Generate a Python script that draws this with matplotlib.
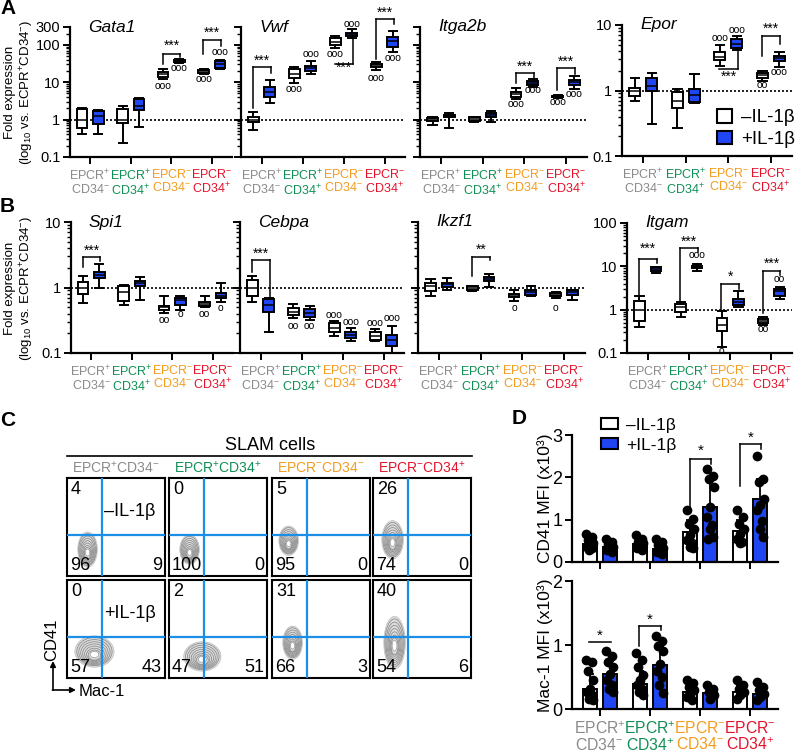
#!/usr/bin/env python3
"""Redraw the EPCR/CD34 SLAM cell expression, flow and MFI panels."""

import matplotlib
matplotlib.use("Agg")
import matplotlib.pyplot as plt
from matplotlib import font_manager
from matplotlib.patches import Ellipse, Patch
from matplotlib.ticker import NullFormatter

plt.rcParams["font.family"] = ["Liberation Sans", "DejaVu Sans"]
plt.rcParams["mathtext.fontset"] = "custom"
plt.rcParams["mathtext.rm"] = "Liberation Sans"
plt.rcParams["mathtext.it"] = "Liberation Sans:italic"
plt.rcParams["mathtext.bf"] = "Liberation Sans:bold"

installed = {f.name for f in font_manager.fontManager.ttflist}
NARROW = "Liberation Sans Narrow" in installed
SMALL_FAMILY = ["Liberation Sans Narrow", "Liberation Sans"] if NARROW else ["Liberation Sans"]
SMALL_SIZE = 10 if NARROW else 9.0

W, H = 800, 752
BLUE = "#1f46f0"
QUAD = "#1b8fe6"

group_labels = ["EPCR$^{+}$\nCD34$^{-}$", "EPCR$^{+}$\nCD34$^{+}$", "EPCR$^{-}$\nCD34$^{-}$", "EPCR$^{-}$\nCD34$^{+}$"]
column_titles = ["EPCR$^{+}$CD34$^{-}$", "EPCR$^{+}$CD34$^{+}$", "EPCR$^{-}$CD34$^{-}$", "EPCR$^{-}$CD34$^{+}$"]
group_colors = ["#8a8a8a", "#0f8f55", "#f39c1f", "#e4132b"]
condition_labels = ["–IL-1β", "+IL-1β"]

# box stats per group: [whisker low, q1, median, q3, whisker high]
gata1_minus = [[0.42, 0.61, 0.96, 1.9, 2.1], [0.23, 0.8, 1.0, 1.9, 2.3], [12, 14.2, 16.3, 19, 22], [16.3, 18.1, 20, 21.3, 22.3]]
gata1_plus = [[0.4, 0.78, 1.25, 1.7, 1.78], [0.65, 1.8, 2.3, 3.5, 3.9], [33.5, 35, 37, 40, 41], [22.3, 24.7, 30, 37, 40]]
vwf_minus = [[0.52, 0.88, 1.0, 1.2, 1.6], [9.4, 13.3, 17.1, 22.3, 25.7], [80, 98, 120, 150, 175], [21, 24.8, 27.4, 30.4, 35.7]]
vwf_plus = [[2.8, 4.1, 5.6, 7.6, 11.5], [17.1, 20.1, 23.7, 27.3, 37], [157, 177, 193, 213, 262], [66, 90, 123, 167, 228]]
itga2b_minus = [[0.72, 0.92, 1.0, 1.08, 1.2], [0.88, 0.94, 1.06, 1.15, 1.2], [3.5, 3.96, 4.96, 5.6, 6.9], [3.9, 4.05, 4.2, 4.4, 4.6]]
itga2b_plus = [[0.59, 1.2, 1.28, 1.33, 1.48], [0.88, 1.15, 1.31, 1.48, 1.7], [7.3, 8.5, 9.8, 10.8, 12.3], [6.5, 8.5, 10, 11.5, 14.8]]
epor_minus = [[0.70, 0.81, 0.98, 1.1, 1.55], [0.27, 0.54, 0.70, 0.94, 1.06], [2.4, 2.88, 3.24, 3.86, 5.0], [1.42, 1.55, 1.7, 1.85, 1.97]]
epor_plus = [[0.31, 0.98, 1.19, 1.55, 1.84], [0.64, 0.66, 0.84, 1.06, 1.76], [4.2, 4.4, 5.2, 6.2, 6.9], [2.27, 2.8, 3.17, 3.4, 3.86]]
spi1_minus = [[0.58, 0.79, 1.0, 1.23, 1.5], [0.55, 0.62, 0.85, 1.05, 1.1], [0.41, 0.46, 0.50, 0.53, 0.73], [0.5, 0.53, 0.56, 0.61, 0.73]]
spi1_plus = [[0.98, 1.42, 1.56, 1.75, 2.26], [0.65, 1.06, 1.16, 1.26, 1.47], [0.46, 0.55, 0.65, 0.70, 0.73], [0.61, 0.69, 0.75, 0.82, 1.16]]
cebpa_minus = [[0.61, 0.73, 0.98, 1.31, 1.5], [0.34, 0.38, 0.43, 0.49, 0.56], [0.18, 0.21, 0.24, 0.29, 0.31], [0.15, 0.16, 0.18, 0.21, 0.23]]
cebpa_plus = [[0.21, 0.43, 0.55, 0.67, 0.70], [0.32, 0.36, 0.41, 0.47, 0.53], [0.15, 0.17, 0.19, 0.21, 0.24], [0.10, 0.13, 0.16, 0.19, 0.26]]
ikzf1_minus = [[0.73, 0.87, 1.06, 1.16, 1.35], [0.87, 0.92, 0.98, 1.04, 1.06], [0.63, 0.71, 0.76, 0.80, 0.92], [0.69, 0.73, 0.77, 0.82, 0.85]]
ikzf1_plus = [[0.9, 1.01, 1.14, 1.19, 1.39], [1.01, 1.26, 1.34, 1.43, 1.61], [0.73, 0.77, 0.85, 0.92, 1.04], [0.65, 0.77, 0.84, 0.9, 0.92]]
itgam_minus = [[0.39, 0.56, 1.0, 1.61, 2.02], [0.67, 0.88, 1.13, 1.35, 1.5], [0.14, 0.32, 0.45, 0.64, 0.92], [0.45, 0.49, 0.56, 0.62, 0.67]]
itgam_plus = [[6.9, 8.0, 8.7, 9.4, 9.9], [7.6, 9.0, 9.9, 10.4, 11.2], [1.15, 1.26, 1.47, 1.79, 2.73], [1.79, 2.1, 2.64, 3.03, 3.26]]

# "o" marks: (group, -1 minus / +1 plus, y, count)
gata1_circles = [(2, -1, 8, 3), (2, 1, 23.6, 3), (3, -1, 12, 3), (3, 1, 66, 3)]
vwf_circles = [(1, -1, 6.5, 3), (1, 1, 58, 3), (2, -1, 58, 3), (2, 1, 370, 3), (3, -1, 12.8, 3), (3, 1, 45.6, 3)]
itga2b_circles = [(2, -1, 2.6, 3), (2, 1, 6.2, 3), (3, -1, 3.0, 3), (3, 1, 4.76, 3)]
epor_circles = [(2, -1, 6.3, 3), (2, 1, 8.3, 3), (3, -1, 1.22, 2), (3, 1, 1.9, 3)]
spi1_circles = [(2, -1, 0.32, 2), (2, 1, 0.40, 1), (3, -1, 0.40, 2), (3, 1, 0.48, 1)]
cebpa_circles = [(1, -1, 0.26, 2), (1, 1, 0.26, 2), (2, -1, 0.38, 3), (2, 1, 0.30, 3), (3, -1, 0.29, 3), (3, 1, 0.34, 3)]
ikzf1_circles = [(2, -1, 0.49, 1), (3, -1, 0.49, 1)]
itgam_circles = [(1, 1, 18.3, 3), (2, -1, 0.11, 1), (3, -1, 0.35, 2), (3, 1, 5.1, 2)]

# brackets: (group, bar y, left leg end, right leg end, label y, label)
gata1_brackets = [(2, 58, 30, 46, 94, "***"), (3, 136, 56, 94, 213, "***")]
vwf_brackets = [(0, 24.8, 2.0, 18.1, 37, "***"), (2, 31.6, None, 142, 24.8, "***"), (3, 490, 43, 360, 740, "***")]
itga2b_brackets = [(2, 18.1, 9.4, 12.8, 26, "***"), (3, 23.6, 6.2, 16.3, 36, "***")]
epor_brackets = [(2, 2.15, None, 4.1, 1.6, "***"), (3, 6.9, 3.4, 5.2, 8.8, "***")]
spi1_brackets = [(0, 2.96, 2.08, 2.5, 3.7, "***")]
cebpa_brackets = [(0, 2.63, 1.75, 0.69, 3.3, "***")]
ikzf1_brackets = [(1, 2.9, 1.5, 2.6, 3.8, "**")]
itgam_brackets = [(0, 14.8, 2.2, 11.8, 26, "***"), (1, 26, 1.55, 21.8, 37, "***"),
                  (2, 3.88, 0.92, 3.0, 5.8, "*"), (3, 7.6, 0.84, 6.4, 11.2, "***")]

# flow quadrant percentages, row-major (top row -IL-1b, bottom row +IL-1b)
quad_upper_left = [4, 0, 5, 26, 0, 2, 31, 40]
quad_lower_left = [96, 100, 95, 74, 57, 47, 66, 54]
quad_lower_right = [9, 0, 0, 0, 43, 51, 3, 6]
blob_x = [0.21, 0.21, 0.17, 0.20, 0.28, 0.34, 0.21, 0.22]
blob_y = [0.27, 0.27, 0.36, 0.37, 0.27, 0.22, 0.36, 0.36]
blob_w = [0.20, 0.20, 0.20, 0.22, 0.40, 0.38, 0.20, 0.22]
blob_h = [0.36, 0.30, 0.30, 0.39, 0.32, 0.30, 0.34, 0.54]

# MFI (x10^3)
cd41_minus_mean = [0.43, 0.42, 0.70, 0.74]
cd41_plus_mean = [0.35, 0.31, 1.29, 1.48]
cd41_minus_sd = [0.15, 0.13, 0.30, 0.26]
cd41_plus_sd = [0.12, 0.13, 0.70, 0.48]
cd41_minus_pts = [[0.67, 0.59, 0.52, 0.44, 0.40, 0.36, 0.32, 0.28], [0.63, 0.55, 0.48, 0.44, 0.36, 0.32, 0.28],
                  [1.22, 1.02, 0.90, 0.79, 0.63, 0.52, 0.44, 0.36, 0.32], [1.22, 1.06, 0.90, 0.79, 0.67, 0.55, 0.48, 0.44]]
cd41_plus_pts = [[0.55, 0.48, 0.40, 0.36, 0.32, 0.28, 0.24], [0.55, 0.48, 0.40, 0.32, 0.28, 0.24, 0.20],
                 [2.2, 2.04, 1.96, 1.77, 1.3, 1.06, 0.87, 0.79, 0.59, 0.55], [2.5, 1.96, 1.88, 1.49, 1.34, 1.22, 0.98, 0.79, 0.59]]
cd41_brackets = [(2, 2.43, 1.22, 2.31, 2.62, "*"), (3, 2.78, 1.8, 2.66, 2.93, "*")]
mac1_minus_mean = [0.32, 0.39, 0.27, 0.27]
mac1_plus_mean = [0.55, 0.69, 0.25, 0.24]
mac1_minus_sd = [0.23, 0.20, 0.10, 0.09]
mac1_plus_sd = [0.20, 0.30, 0.07, 0.09]
mac1_minus_pts = [[0.77, 0.73, 0.6, 0.45, 0.32, 0.27, 0.22, 0.16, 0.14], [0.87, 0.76, 0.65, 0.53, 0.45, 0.37, 0.32, 0.27, 0.22],
                  [0.45, 0.40, 0.35, 0.29, 0.24, 0.19, 0.14], [0.45, 0.37, 0.32, 0.27, 0.22, 0.16]]
mac1_plus_pts = [[0.91, 0.83, 0.73, 0.65, 0.55, 0.45, 0.37, 0.32, 0.27], [1.14, 1.07, 0.99, 0.91, 0.71, 0.6, 0.5, 0.37, 0.25],
                 [0.37, 0.32, 0.27, 0.22, 0.16], [0.42, 0.35, 0.29, 0.24, 0.19, 0.14]]
mac1_brackets = [(0, 1.04, None, None, 1.14, "*"), (1, 1.3, 0.99, 1.23, 1.4, "*")]

JITTER = [-0.07, 0.05, -0.03, 0.07, 0.0, -0.06, 0.04, -0.01, 0.06, -0.05]


def add_axes_px(fig, left, top, right, bottom):
    ax = fig.add_axes([left / W, 1 - bottom / H, (right - left) / W, (bottom - top) / H])
    ax.set_facecolor("none")
    return ax


def style_axis(ax, label_size):
    for side in ("top", "right"):
        ax.spines[side].set_visible(False)
    for side in ("left", "bottom"):
        ax.spines[side].set_linewidth(1.6)
    ax.tick_params(which="major", length=5, width=1.4)
    ax.tick_params(which="minor", length=3, width=1.0)
    ax.tick_params(axis="y", labelsize=label_size, pad=2)


def color_xlabels(ax, family, size, spacing):
    for tick_label, color in zip(ax.get_xticklabels(), group_colors):
        tick_label.set_color(color)
        tick_label.set_family(family)
        tick_label.set_fontsize(size)
        tick_label.set_linespacing(spacing)


def draw_brackets(ax, brackets, lw=1.1, size=10):
    for group, top, left, right, label_y, label in brackets:
        x0, x1 = group - 0.21, group + 0.22
        ax.plot([x0, x1], [top, top], color="black", lw=lw, clip_on=False)
        if left is not None:
            ax.plot([x0, x0], [left, top], color="black", lw=lw, clip_on=False)
        if right is not None:
            ax.plot([x1, x1], [right, top], color="black", lw=lw, clip_on=False)
        ax.text((x0 + x1) / 2, label_y, label, ha="center", va="center", fontsize=size, clip_on=False)


def draw_gene(ax, name, minus, plus, circles, brackets, ylim, ticks, show_labels):
    for stats, shift, color in ((minus, -0.2, "white"), (plus, 0.2, BLUE)):
        boxes = [dict(whislo=s[0], q1=s[1], med=s[2], q3=s[3], whishi=s[4]) for s in stats]
        ax.bxp(boxes, positions=[i + shift for i in range(4)], widths=0.26, capwidths=0.2,
               showfliers=False, patch_artist=True, manage_ticks=False,
               boxprops=dict(facecolor=color, edgecolor="black", linewidth=1.4),
               whiskerprops=dict(color="black", linewidth=1.4),
               capprops=dict(color="black", linewidth=1.4),
               medianprops=dict(color="black", linewidth=1.1))
    for group, side, y, count in circles:
        ax.text(group + 0.2 * side, y, "o" * count, ha="center", va="center", fontsize=7.5, clip_on=False)
    draw_brackets(ax, brackets)
    ax.axhline(1, color="black", lw=1.2, ls=(0, (1.2, 1.2)), zorder=0.5)
    ax.set_yscale("log")
    ax.set_ylim(*ylim)
    ax.set_xlim(-0.5, 3.5)
    ax.set_yticks(ticks, [f"{t:g}" for t in ticks] if show_labels else [])
    ax.yaxis.set_minor_formatter(NullFormatter())
    style_axis(ax, 10.5)
    ax.tick_params(axis="x", pad=3)
    ax.set_xticks(range(4), group_labels)
    color_xlabels(ax, SMALL_FAMILY, SMALL_SIZE, 1.0)
    ax.text(0.11, 1.0, name, transform=ax.transAxes, fontsize=12.5, fontstyle="italic",
            ha="left", va="center")


def draw_mfi(ax, minus_mean, plus_mean, minus_sd, plus_sd, minus_pts, plus_pts, brackets, ymax, show_x):
    for means, sds, pts, shift, color in ((minus_mean, minus_sd, minus_pts, -0.2, "white"),
                                          (plus_mean, plus_sd, plus_pts, 0.2, BLUE)):
        xs = [i + shift for i in range(4)]
        ax.bar(xs, means, width=0.28, color=color, edgecolor="black", linewidth=1.4, zorder=2)
        ax.errorbar(xs, means, yerr=[[0] * 4, sds], fmt="none", ecolor="black", elinewidth=1.3,
                    capsize=3, capthick=1.3, zorder=3)
        for x, values in zip(xs, pts):
            ax.plot([x + JITTER[k % len(JITTER)] for k in range(len(values))], values, "o",
                    color="black", ms=6, zorder=4, clip_on=False)
    draw_brackets(ax, brackets, lw=1.1, size=11)
    ax.set_xlim(-0.55, 3.55)
    ax.set_ylim(0, ymax)
    ax.set_yticks(range(ymax + 1))
    style_axis(ax, 13)
    ax.tick_params(axis="x", pad=3)
    if show_x:
        ax.set_xticks(range(4), group_labels)
        color_xlabels(ax, ["Liberation Sans"], 11.3, 1.02)
    else:
        ax.set_xticks(range(4), [])


def draw_flow(ax, k, row, col):
    ax.set_xlim(0, 1)
    ax.set_ylim(0, 1)
    ax.set_xticks([])
    ax.set_yticks([])
    for spine in ax.spines.values():
        spine.set_linewidth(1.5)
    ax.axvline(0.36, color=QUAD, lw=1.6, zorder=3)
    ax.axhline(0.42, color=QUAD, lw=1.6, zorder=3)
    center = (blob_x[k], blob_y[k])
    ax.add_patch(Ellipse(center, blob_w[k], blob_h[k], facecolor="#d4d4d4",
                         edgecolor="#b4b4b4", lw=0.5, alpha=0.8, zorder=1))
    scales = [0.9, 0.8, 0.7, 0.6, 0.5, 0.4, 0.32]
    for j, s in enumerate(scales):
        ax.add_patch(Ellipse((center[0], center[1] - 0.006 * j), blob_w[k] * s, blob_h[k] * s,
                             fill=False, edgecolor="#8a8a8a", lw=0.55, zorder=2))
    ax.add_patch(Ellipse((center[0], center[1] - 0.03), blob_w[k] * 0.22, blob_h[k] * 0.2,
                         facecolor="white", edgecolor="#9a9a9a", lw=0.5, zorder=2))
    ax.text(0.04, 0.97, str(quad_upper_left[k]), transform=ax.transAxes, ha="left", va="top", fontsize=13)
    ax.text(0.03, 0.02, str(quad_lower_left[k]), transform=ax.transAxes, ha="left", va="bottom", fontsize=13)
    ax.text(0.97, 0.02, str(quad_lower_right[k]), transform=ax.transAxes, ha="right", va="bottom", fontsize=13)
    if col == 0:
        ax.text(0.64, 0.66, condition_labels[row], transform=ax.transAxes, ha="center", va="center",
                fontsize=13)


def main():
    fig = plt.figure(figsize=(W / 100, H / 100), dpi=100)

    # A
    draw_gene(add_axes_px(fig, 70, 27, 232, 157), "Gata1", gata1_minus, gata1_plus, gata1_circles,
              gata1_brackets, (0.1, 300), [0.1, 1, 10, 100, 300], True)
    draw_gene(add_axes_px(fig, 241, 27, 405, 157), "Vwf", vwf_minus, vwf_plus, vwf_circles,
              vwf_brackets, (0.1, 300), [0.1, 1, 10, 100, 300], False)
    draw_gene(add_axes_px(fig, 420, 27, 587, 157), "Itga2b", itga2b_minus, itga2b_plus, itga2b_circles,
              itga2b_brackets, (0.1, 300), [0.1, 1, 10, 100, 300], False)
    draw_gene(add_axes_px(fig, 622, 25, 792, 156), "Epor", epor_minus, epor_plus, epor_circles,
              epor_brackets, (0.1, 10), [0.1, 1, 10], True)

    # B
    draw_gene(add_axes_px(fig, 71, 222, 233, 353), "Spi1", spi1_minus, spi1_plus, spi1_circles,
              spi1_brackets, (0.1, 10), [0.1, 1, 10], True)
    draw_gene(add_axes_px(fig, 240, 222, 404, 353), "Cebpa", cebpa_minus, cebpa_plus, cebpa_circles,
              cebpa_brackets, (0.1, 10), [0.1, 1, 10], False)
    draw_gene(add_axes_px(fig, 418, 222, 585, 353), "Ikzf1", ikzf1_minus, ikzf1_plus, ikzf1_circles,
              ikzf1_brackets, (0.1, 10), [0.1, 1, 10], False)
    draw_gene(add_axes_px(fig, 627, 223, 792, 353), "Itgam", itgam_minus, itgam_plus, itgam_circles,
              itgam_brackets, (0.1, 100), [0.1, 1, 10, 100], True)

    handles = [Patch(facecolor="white", edgecolor="black", linewidth=1.5, label=condition_labels[0]),
               Patch(facecolor=BLUE, edgecolor="black", linewidth=1.5, label=condition_labels[1])]
    fig.legend(handles=handles, loc="upper left", bbox_to_anchor=(708 / W, 1 - 100 / H), frameon=False,
               fontsize=13.5, handlelength=0.8, handleheight=0.7, handletextpad=0.45, labelspacing=0.25,
               borderpad=0)

    # C
    lefts = [67, 169, 272, 373]
    tops = [478, 580]
    for k in range(8):
        row, col = divmod(k, 4)
        draw_flow(add_axes_px(fig, lefts[col], tops[row], lefts[col] + 98, tops[row] + 98), k, row, col)

    # D
    draw_mfi(add_axes_px(fig, 572, 435, 778, 562), cd41_minus_mean, cd41_plus_mean, cd41_minus_sd,
             cd41_plus_sd, cd41_minus_pts, cd41_plus_pts, cd41_brackets, 3, False)
    draw_mfi(add_axes_px(fig, 572, 581, 778, 709), mac1_minus_mean, mac1_plus_mean, mac1_minus_sd,
             mac1_plus_sd, mac1_minus_pts, mac1_plus_pts, mac1_brackets, 2, True)
    fig.legend(handles=handles, loc="upper left", bbox_to_anchor=(592 / W, 1 - 409 / H), frameon=False,
               fontsize=12.5, handlelength=1.0, handleheight=0.6, handletextpad=0.45, labelspacing=0.3,
               borderpad=0)

    # free text, pixel coordinates
    over = fig.add_axes([0, 0, 1, 1])
    over.set_xlim(0, W)
    over.set_ylim(H, 0)
    over.axis("off")
    over.patch.set_alpha(0)
    for letter, x, y in (("A", 0, 9), ("B", 0, 207), ("C", 0, 420), ("D", 512, 419)):
        over.text(x, y, letter, fontsize=15, fontweight="bold", ha="left", va="center")
    ylab = "Fold expression\n(log$_{10}$ vs. ECPR$^{+}$CD34$^{-}$)"
    over.text(20, 92, ylab, rotation=90, ha="center", va="center", fontsize=9.5, linespacing=1.1)
    over.text(20, 288, ylab, rotation=90, ha="center", va="center", fontsize=9.5, linespacing=1.1)
    over.text(270, 445, "SLAM cells", ha="center", va="center", fontsize=13)
    over.plot([67, 472], [456, 456], color="black", lw=1.2)
    for col, title in enumerate(column_titles):
        over.text(lefts[col] + 49, 468, title, ha="center", va="center", fontsize=10, color=group_colors[col])
    over.annotate("", xy=(53, 661), xytext=(53, 690),
                  arrowprops=dict(arrowstyle="-|>", lw=1.2, color="black", shrinkA=0, shrinkB=0, mutation_scale=8))
    over.annotate("", xy=(76, 690), xytext=(52.4, 690),
                  arrowprops=dict(arrowstyle="-|>", lw=1.2, color="black", shrinkA=0, shrinkB=0, mutation_scale=8))
    over.text(52, 640, "CD41", rotation=90, ha="center", va="center", fontsize=12)
    over.text(79, 692, "Mac-1", ha="left", va="center", fontsize=12)
    over.text(545, 498, "CD41 MFI (x10³)", rotation=90, ha="center", va="center", fontsize=12.5)
    over.text(545, 645, "Mac-1 MFI (x10³)", rotation=90, ha="center", va="center", fontsize=12.5)

    fig.savefig("out.png", dpi=100)


if __name__ == "__main__":
    main()
